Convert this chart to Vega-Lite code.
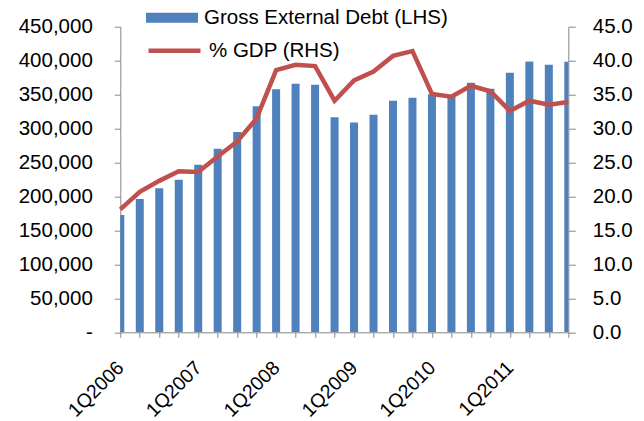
{
  "$schema": "https://vega.github.io/schema/vega-lite/v6.json",
  "width": 448,
  "height": 305.6,
  "autosize": "none",
  "padding": {"left": 120.3, "top": 26.7, "right": 75.7, "bottom": 88.7},
  "background": "white",
  "config": {
    "view": {"stroke": null},
    "font": "Liberation Sans",
    "axis": {"labelFont": "Liberation Sans", "labelFontSize": 20.5, "labelColor": "#000000", "domainColor": "#868686", "tickColor": "#868686", "grid": false, "title": null},
    "legend": {"labelFont": "Liberation Sans", "labelFontSize": 20.5, "labelColor": "#000000", "padding": 0}
  },
  "data": {
    "values": [
      {"quarter": "1Q2006", "debt": 172600, "gdp": 18.1},
      {"quarter": "2Q2006", "debt": 196200, "gdp": 20.7},
      {"quarter": "3Q2006", "debt": 212000, "gdp": 22.3},
      {"quarter": "4Q2006", "debt": 224700, "gdp": 23.7},
      {"quarter": "1Q2007", "debt": 246800, "gdp": 23.6},
      {"quarter": "2Q2007", "debt": 270400, "gdp": 25.9},
      {"quarter": "3Q2007", "debt": 295100, "gdp": 28.1},
      {"quarter": "4Q2007", "debt": 333000, "gdp": 31.5},
      {"quarter": "1Q2008", "debt": 358000, "gdp": 38.6},
      {"quarter": "2Q2008", "debt": 365900, "gdp": 39.4},
      {"quarter": "3Q2008", "debt": 364400, "gdp": 39.2},
      {"quarter": "4Q2008", "debt": 316700, "gdp": 34.1},
      {"quarter": "1Q2009", "debt": 308800, "gdp": 37.1},
      {"quarter": "2Q2009", "debt": 320200, "gdp": 38.4},
      {"quarter": "3Q2009", "debt": 340800, "gdp": 40.7},
      {"quarter": "4Q2009", "debt": 345200, "gdp": 41.4},
      {"quarter": "1Q2010", "debt": 350700, "gdp": 35.1},
      {"quarter": "2Q2010", "debt": 347000, "gdp": 34.7},
      {"quarter": "3Q2010", "debt": 367400, "gdp": 36.3},
      {"quarter": "4Q2010", "debt": 358500, "gdp": 35.5},
      {"quarter": "1Q2011", "debt": 382100, "gdp": 32.6},
      {"quarter": "2Q2011", "debt": 398800, "gdp": 34.1},
      {"quarter": "3Q2011", "debt": 393900, "gdp": 33.5},
      {"quarter": "4Q2011", "debt": 398400, "gdp": 33.9}
    ]
  },
  "encoding": {
    "x": {
      "field": "quarter",
      "type": "ordinal",
      "sort": null,
      "scale": {"type": "point", "padding": 0},
      "axis": {
        "labelAngle": -45,
        "labelAlign": "right",
        "labelBaseline": "middle",
        "labelPadding": 27,
        "labelFontSize": 19.5,
        "tickSize": 5,
        "labelOverlap": false,
        "labelExpr": "indexof(datum.label, '1Q') == 0 ? datum.label : ''"
      }
    }
  },
  "layer": [
    {
      "mark": {"type": "bar", "size": 8, "clip": true},
      "encoding": {
        "y": {
          "field": "debt",
          "type": "quantitative",
          "scale": {"domain": [0, 450000], "nice": false},
          "axis": {
            "orient": "left",
            "values": [0, 50000, 100000, 150000, 200000, 250000, 300000, 350000, 400000, 450000],
            "tickSize": 6,
            "labelPadding": 22,
            "labelExpr": "datum.value == 0 ? '-\u00a0\u00a0' : format(datum.value, ',')"
          }
        },
        "color": {
          "datum": "Gross External Debt (LHS)",
          "type": "nominal",
          "scale": {"range": ["#4F81BD"]},
          "legend": {
            "title": null,
            "orient": "none",
            "legendX": 25.7,
            "legendY": -35,
            "symbolType": "M-1,-0.19H1V0.19H-1Z",
            "symbolSize": 2704,
            "symbolStrokeWidth": 0,
            "symbolOpacity": 1,
            "labelOffset": 6,
            "labelLimit": 400
          }
        }
      }
    },
    {
      "mark": {"type": "line", "strokeWidth": 4.5, "clip": false},
      "encoding": {
        "y": {
          "field": "gdp",
          "type": "quantitative",
          "scale": {"domain": [0, 45], "nice": false},
          "axis": {
            "orient": "right",
            "values": [0, 5, 10, 15, 20, 25, 30, 35, 40, 45],
            "format": ".1f",
            "tickSize": 7,
            "labelPadding": 17
          }
        },
        "stroke": {
          "datum": "% GDP (RHS)",
          "type": "nominal",
          "scale": {"range": ["#C0504D"]},
          "legend": {
            "title": null,
            "orient": "none",
            "legendX": 25.7,
            "legendY": -4.4,
            "symbolType": "stroke",
            "symbolSize": 2704,
            "symbolStrokeWidth": 4.5,
            "labelOffset": 6,
            "labelLimit": 400
          }
        }
      }
    }
  ],
  "resolve": {"scale": {"y": "independent", "color": "independent", "stroke": "independent"}}
}
